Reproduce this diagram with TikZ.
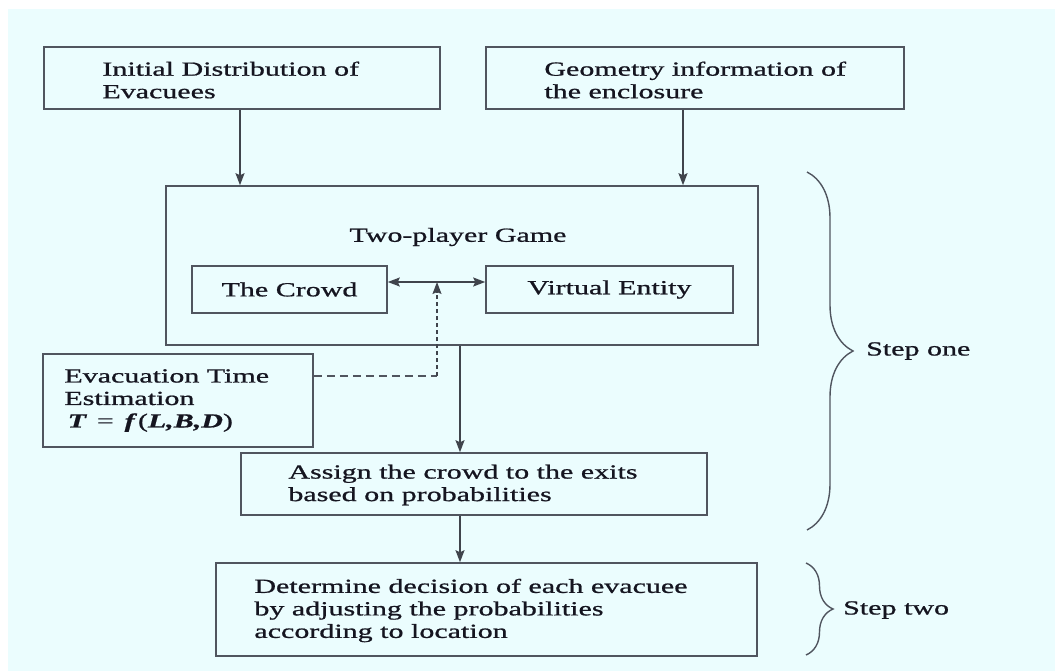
\documentclass[tikz,border=0pt]{standalone}
\usepackage{fontspec}
\setmainfont[FakeStretch=1.5,FakeBold=0.9]{Liberation Serif}
\usetikzlibrary{arrows.meta,decorations.pathreplacing,calc}
\definecolor{bgcyan}{HTML}{EBFDFE}
\definecolor{boxline}{HTML}{50555F}
\definecolor{inkdark}{HTML}{151520}

\begin{document}
\begin{tikzpicture}[x=1pt,y=-1pt,>={Stealth[length=12pt,width=9pt,inset=2pt]},
	box/.style={draw=boxline, line width=1.6pt, inner sep=0pt, text=inkdark,
		font=\fontsize{20}{22.5}\selectfont},
	txt/.style={inner sep=0pt, align=left, text=inkdark, font=\fontsize{20}{22.5}\selectfont},
	flow/.style={draw=boxline!80!black, line width=1.4pt, ->},
	stepbrace/.style={draw=boxline, line width=1.4pt, decorate, decoration={brace, amplitude=#1}}]

	\useasboundingbox (0,0) rectangle (1055,671);
	\fill[bgcyan] (8,9) rectangle (1055,671);

	% inputs
	\node[box, minimum width=396pt, minimum height=62pt] (init) at (242,78) {};
	\node[txt, anchor=west] (inittxt) at ([xshift=59pt,yshift=-2pt]init.west) {Initial Distribution of\\Evacuees};
	\node[box, minimum width=418pt, minimum height=62pt] (geom) at (695,78) {};
	\node[txt, anchor=west] (geomtxt) at ([xshift=59pt,yshift=-2pt]geom.west) {Geometry information of\\the enclosure};

	% game
	\node[box, minimum width=592pt, minimum height=159pt] (game) at (462,265.5) {};
	\node[txt] (gametitle) at (458,237) {Two-player Game};
	\node[box, minimum width=195pt, minimum height=47pt] (crowd) at (289.5,289.5) {The Crowd};
	\node[box, minimum width=247pt, minimum height=47pt] (virt) at (609.5,289.5) {Virtual Entity};

	\node[box, minimum width=270pt, minimum height=93pt] (est) at (178,400.5) {};
	\node[txt, anchor=west] (esttxt) at ([xshift=22pt]est.west) {Evacuation Time\\Estimation\\\,{\bfseries\itshape T} \,=\, {\bfseries\itshape f}\,({\bfseries\itshape L,B,D})};

	\node[box, minimum width=466pt, minimum height=62pt] (assign) at (474,484) {};
	\node[txt, anchor=west] (assigntxt) at ([xshift=48pt,yshift=-1pt]assign.west) {Assign the crowd to the exits\\based on probabilities};

	\node[box, minimum width=541pt, minimum height=93pt] (decide) at (486.5,609.5) {};
	\node[txt, anchor=west] (decidetxt) at ([xshift=39pt,yshift=-1pt]decide.west) {Determine decision of each evacuee\\by adjusting the probabilities\\according to location};

	% connectors
	\draw[flow] ([xshift=-2pt]init.south) -- ([xshift=-2pt]init.south |- game.north);
	\draw[flow] ([xshift=-12pt]geom.south) -- ([xshift=-12pt]geom.south |- game.north);
	\draw[flow] ([xshift=-2pt]game.south) -- ([xshift=-2pt]game.south |- assign.north);
	\draw[flow] ([xshift=-14pt]assign.south) -- ([xshift=-14pt]assign.south |- decide.north);
	\draw[flow, <->] ([yshift=7.5pt]crowd.east) -- ([yshift=7.5pt]virt.west);

	\coordinate (bend) at (437,376);
	\coordinate (meet) at (437,282);
	\draw[draw=boxline, line width=1.3pt, dash pattern=on 8pt off 5pt] ([yshift=24.5pt]est.east) -- (bend);
	\draw[flow, line width=1.3pt, dash pattern=on 4pt off 3pt] (bend) -- (meet);

	% steps
	\draw[stepbrace=46pt] (807,172) -- (807,530);
	\node[txt, anchor=west] (stepone) at (866,351) {Step one};
	\draw[stepbrace=27pt] (806,563) -- (806,655);
	\node[txt, anchor=west] (steptwo) at (843,610) {Step two};

\end{tikzpicture}
\end{document}
